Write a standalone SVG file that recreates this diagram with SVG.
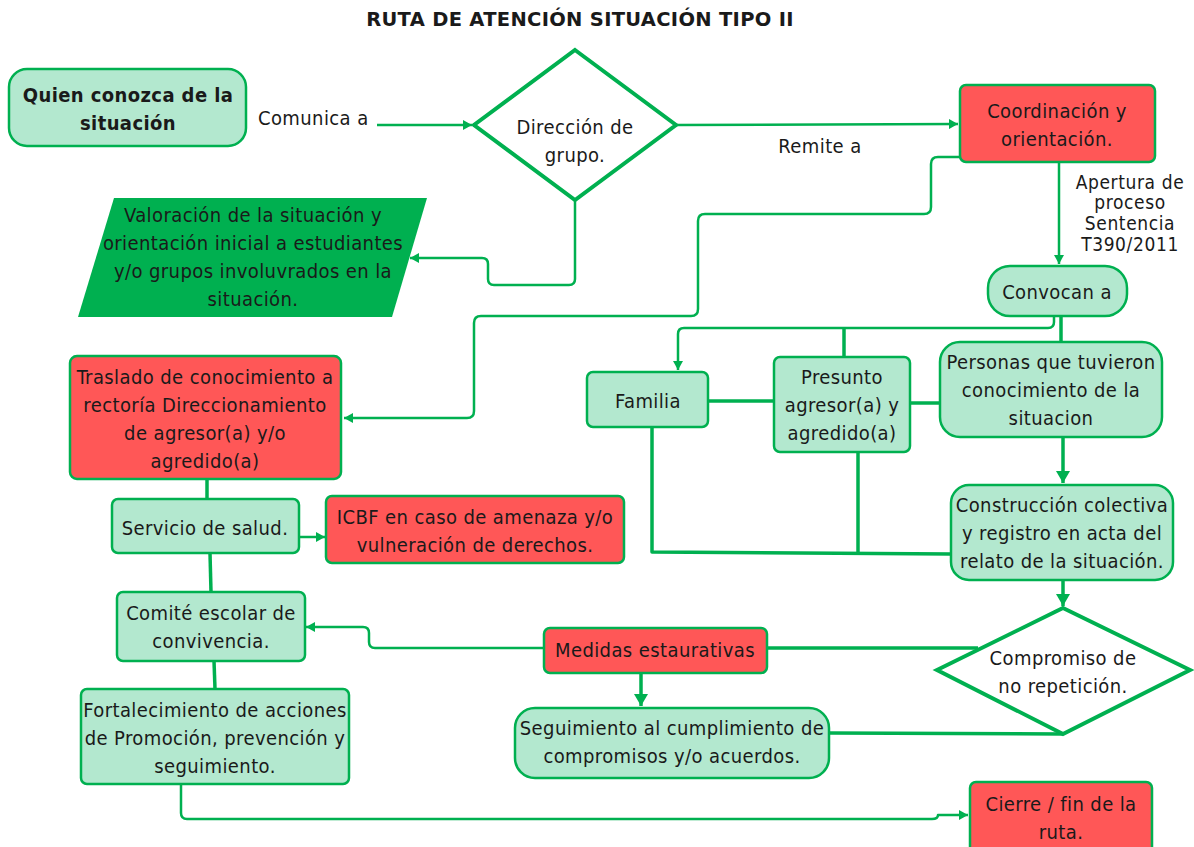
<svg xmlns="http://www.w3.org/2000/svg" width="1194" height="847" viewBox="0 0 1194 847">
<defs>
<style>
text{font-family:"DejaVu Sans Condensed","DejaVu Sans",sans-serif;font-size:20px;letter-spacing:0.4px;fill:#1a1a1a;text-anchor:middle}
.lbl{text-anchor:start}
.b{font-weight:bold}
.title{font-family:"DejaVu Sans",sans-serif;font-weight:bold;font-size:19.5px;letter-spacing:0.3px}
.ap{font-size:19px;letter-spacing:0.6px}
.light{fill:#b3e8cf;stroke:#00b050;stroke-width:2.5}
.red{fill:#ff5757;stroke:#00b050;stroke-width:2.5}
.dia{fill:#ffffff;stroke:#00b050;stroke-width:4;stroke-linejoin:miter}
.par{fill:#00b050;stroke:none}
.c{fill:none;stroke:#00b050;stroke-width:2.5;stroke-linejoin:round}
.t{stroke-width:3.5}
</style>
<marker id="a" markerUnits="userSpaceOnUse" markerWidth="9" markerHeight="10" refX="9" refY="5" orient="auto"><path d="M0,0 L9,5 L0,10 z" fill="#00b050"/></marker>
<marker id="ab" markerUnits="userSpaceOnUse" markerWidth="12" markerHeight="14" refX="12" refY="7" orient="auto"><path d="M0,0 L12,7 L0,14 z" fill="#00b050"/></marker>
</defs>
<rect width="1194" height="847" fill="#ffffff"/>
<text x="580" y="26" class="title">RUTA DE ATENCIÓN SITUACIÓN TIPO II</text>

<g id="connectors">
<path class="c" d="M377,125 L472,125" marker-end="url(#a)"/>
<path class="c" d="M676,125 L958,124" marker-end="url(#a)"/>
<path class="c" d="M1059,162 L1059,264" marker-end="url(#a)"/>
<path class="c" d="M960,157 L938,157 Q931,157 931,164 L931,207 Q931,214 924,214 L705,214 Q698,214 698,221 L698,309 Q698,316 691,316 L481,316 Q474,316 474,323 L474,411 Q474,418 467,418 L344,418" marker-end="url(#a)"/>
<path class="c" d="M575,200 L575,279 Q575,285 569,285 L494,285 Q488,285 488,279 L488,264 Q488,258 482,258 L410,258" marker-end="url(#a)"/>
<path class="c" d="M1054,316 L1054,322 Q1054,328 1048,328 L684,328 Q678,328 678,334 L678,370" marker-end="url(#a)"/>
<path class="c t" d="M1061,316 L1061,342"/>
<path class="c t" d="M844,328 L844,357"/>
<path class="c t" d="M708,401 L774,401"/>
<path class="c t" d="M910,403 L940,403"/>
<path class="c t" d="M1063,437 L1063,483" marker-end="url(#ab)"/>
<path class="c t" d="M652,427 L652,552 L951,554"/>
<path class="c t" d="M858,452 L858,553"/>
<path class="c t" d="M1063,580 L1063,606" marker-end="url(#ab)"/>
<path class="c t" d="M978,648 L767,648"/>
<path class="c" d="M544,648 L375,648 Q369,648 369,642 L369,633 Q369,627 363,627 L306,627" marker-end="url(#a)"/>
<path class="c t" d="M641,673 L641,706" marker-end="url(#ab)"/>
<path class="c t" d="M829,733 L1063,734"/>
<path class="c t" d="M207,479 L207,499"/>
<path class="c" d="M299,537 L325,537" marker-end="url(#a)"/>
<path class="c t" d="M210,553 L211,592"/>
<path class="c t" d="M214,661 L215,689"/>
<path class="c" d="M181,784 L181,813 Q181,819 187,819 L932,819 Q938,819 938,815 L968,815" marker-end="url(#a)"/>
</g>

<g id="labels">
<text x="258" y="125" class="lbl">Comunica a</text>
<text x="820" y="153">Remite a</text>
<text x="1130" y="189" class="ap">Apertura de</text>
<text x="1130" y="209" class="ap">proceso</text>
<text x="1130" y="230" class="ap">Sentencia</text>
<text x="1130" y="251" class="ap">T390/2011</text>
</g>

<g id="n-quien">
<rect class="light" x="9" y="69" width="237" height="77" rx="18"/>
<text x="128" y="102" class="b">Quien conozca de la</text>
<text x="128" y="130" class="b">situación</text>
</g>
<g id="n-direccion">
<polygon class="dia" points="575,50 676,125 575,200 474,125"/>
<text x="575" y="134">Dirección de</text>
<text x="575" y="162">grupo.</text>
</g>
<g id="n-coordinacion">
<rect class="red" x="960" y="85" width="195" height="77" rx="6"/>
<text x="1057" y="118">Coordinación y</text>
<text x="1057" y="146">orientación.</text>
</g>
<g id="n-valoracion">
<polygon class="par" points="114,198 427,198 392,317 78,317"/>
<text x="253" y="222">Valoración de la situación y</text>
<text x="253" y="250">orientación inicial a estudiantes</text>
<text x="253" y="278">y/o grupos involuvrados en la</text>
<text x="253" y="306">situación.</text>
</g>
<g id="n-convocan">
<rect class="light" x="988" y="266" width="139" height="50" rx="22"/>
<text x="1057" y="299">Convocan a</text>
</g>
<g id="n-familia">
<rect class="light" x="587" y="372" width="121" height="55" rx="6"/>
<text x="648" y="408">Familia</text>
</g>
<g id="n-presunto">
<rect class="light" x="774" y="357" width="136" height="95" rx="6"/>
<text x="842" y="384">Presunto</text>
<text x="842" y="412">agresor(a) y</text>
<text x="842" y="440">agredido(a)</text>
</g>
<g id="n-personas">
<rect class="light" x="940" y="342" width="222" height="95" rx="20"/>
<text x="1051" y="369">Personas que tuvieron</text>
<text x="1051" y="397">conocimiento de la</text>
<text x="1051" y="425">situacion</text>
</g>
<g id="n-construccion">
<rect class="light" x="951" y="485" width="222" height="95" rx="18"/>
<text x="1062" y="512">Construcción colectiva</text>
<text x="1062" y="540">y registro en acta del</text>
<text x="1062" y="568">relato de la situación.</text>
</g>
<g id="n-traslado">
<rect class="red" x="70" y="356" width="271" height="123" rx="7"/>
<text x="205" y="384">Traslado de conocimiento a</text>
<text x="205" y="412">rectoría Direccionamiento</text>
<text x="205" y="440">de agresor(a) y/o</text>
<text x="205" y="468">agredido(a)</text>
</g>
<g id="n-servicio">
<rect class="light" x="112" y="499" width="187" height="54" rx="6"/>
<text x="205" y="535">Servicio de salud.</text>
</g>
<g id="n-icbf">
<rect class="red" x="326" y="496" width="298" height="67" rx="6"/>
<text x="475" y="524">ICBF en caso de amenaza y/o</text>
<text x="475" y="552">vulneración de derechos.</text>
</g>
<g id="n-comite">
<rect class="light" x="117" y="592" width="188" height="69" rx="6"/>
<text x="211" y="620">Comité escolar de</text>
<text x="211" y="648">convivencia.</text>
</g>
<g id="n-medidas">
<rect class="red" x="544" y="628" width="223" height="45" rx="6"/>
<text x="655" y="657">Medidas estaurativas</text>
</g>
<g id="n-compromiso">
<polygon class="dia" points="1063,608 1190,670 1063,734 937,670"/>
<text x="1063" y="665">Compromiso de</text>
<text x="1063" y="693">no repetición.</text>
</g>
<g id="n-seguimiento">
<rect class="light" x="515" y="708" width="314" height="70" rx="20"/>
<text x="672" y="735">Seguimiento al cumplimiento de</text>
<text x="672" y="763">compromisos y/o acuerdos.</text>
</g>
<g id="n-fortalecimiento">
<rect class="light" x="81" y="689" width="268" height="95" rx="6"/>
<text x="215" y="717">Fortalecimiento de acciones</text>
<text x="215" y="745">de Promoción, prevención y</text>
<text x="215" y="773">seguimiento.</text>
</g>
<g id="n-cierre">
<rect class="red" x="970" y="782" width="182" height="75" rx="6"/>
<text x="1061" y="811">Cierre / fin de la</text>
<text x="1061" y="839">ruta.</text>
</g>
</svg>
